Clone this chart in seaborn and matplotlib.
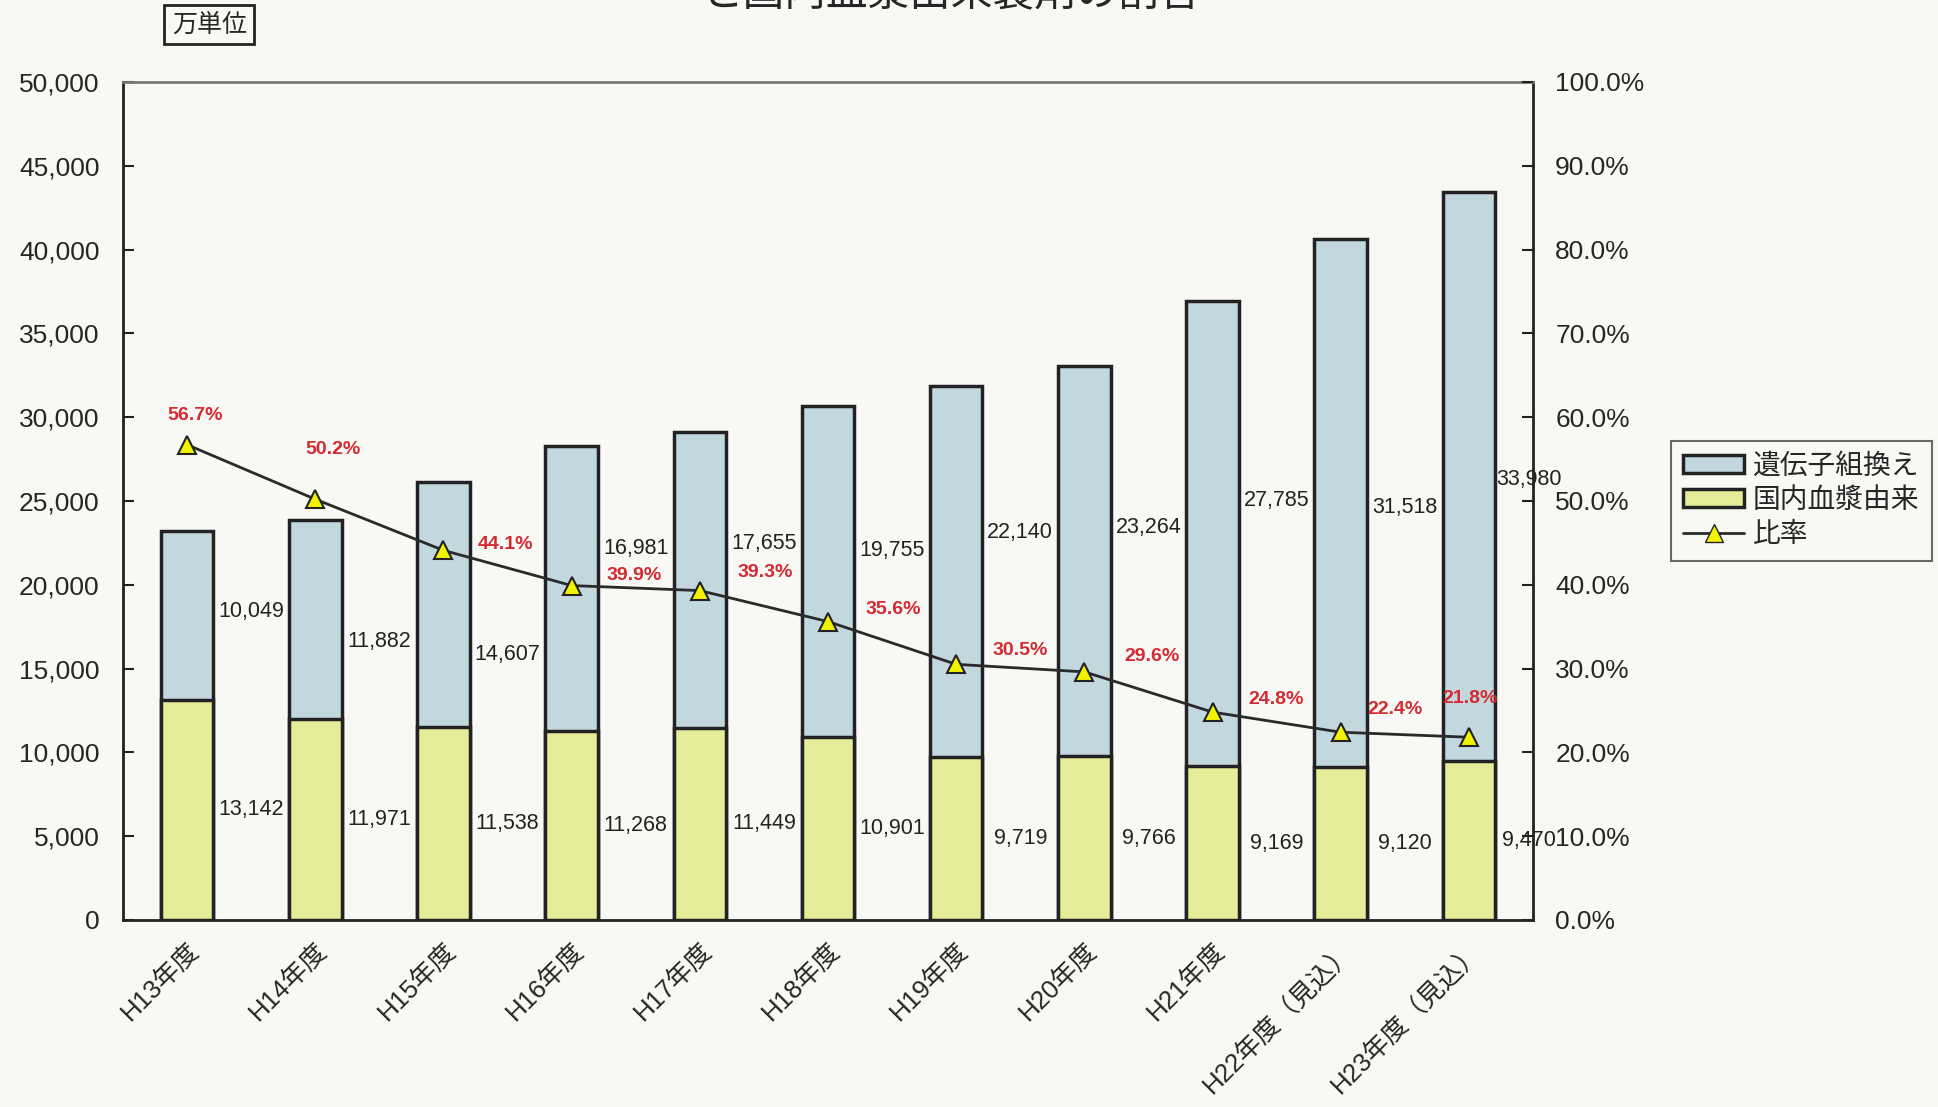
import numpy as np
import pandas as pd
import matplotlib
matplotlib.use("Agg")
import matplotlib.pyplot as plt
import seaborn as sns
from matplotlib.patches import Patch
from matplotlib.lines import Line2D

# data (万単位)
years = ['H13年度', 'H14年度', 'H15年度', 'H16年度', 'H17年度', 'H18年度',
         'H19年度', 'H20年度', 'H21年度', 'H22年度（見込）', 'H23年度（見込）']
plasma = [13142, 11971, 11538, 11268, 11449, 10901, 9719, 9766, 9169, 9120, 9470]
recomb = [10049, 11882, 14607, 16981, 17655, 19755, 22140, 23264, 27785, 31518, 33980]
ratio = [56.7, 50.2, 44.1, 39.9, 39.3, 35.6, 30.5, 29.6, 24.8, 22.4, 21.8]

# label nudges (points)
recomb_dy = [3, -16, -36, 29, 26, 15, 28, 24, 24, -3, -2]
ratio_off = [(6, 21), (13, 36), (45, 4), (45, 7), (47, 13), (47, 9),
             (46, 10), (49, 11), (46, 9), (39, 16), (1, 28)]

sns.set_style("white")
plt.rcParams['font.family'] = ['Liberation Sans', 'Noto Sans CJK JP', 'DejaVu Sans']

bg = '#f8f8f5'
blue = '#c3d7df'
yellow = '#e7ec98'
edge = '#222222'

df = pd.DataFrame({'year': years, 'plasma': plasma, 'recomb': recomb, 'ratio': ratio})
df['total'] = df['plasma'] + df['recomb']

fig = plt.figure(figsize=(19.38, 11.07), dpi=100, facecolor=bg)
ax = fig.add_axes([0.0635, 0.169, 0.7275, 0.757])
ax.set_facecolor(bg)

sns.barplot(data=df, x='year', y='total', color=blue, width=0.41,
            edgecolor=edge, linewidth=2.5, saturation=1, ax=ax)
sns.barplot(data=df, x='year', y='plasma', color=yellow, width=0.41,
            edgecolor=edge, linewidth=2.5, saturation=1, ax=ax)

ax.set_ylim(0, 50000)
ax.set_xlim(-0.5, len(years) - 0.5)
ax.set_yticks(np.arange(0, 50001, 5000))
ax.yaxis.set_major_formatter(matplotlib.ticker.FuncFormatter(lambda v, p: f'{int(v):,}'))
ax.set_xlabel('')
ax.set_ylabel('')
ax.set_xticks(np.arange(len(years)))
ax.set_xticklabels(years, rotation=45, ha='right', rotation_mode='anchor', fontsize=18.5)
ax.set_xticks(np.arange(len(years) + 1) - 0.5, minor=True)
ax.tick_params(axis='x', which='major', length=0, pad=13)
ax.tick_params(axis='x', which='minor', direction='in', length=6, color=edge)
ax.tick_params(axis='y', direction='in', length=8, width=1.5, color=edge, labelsize=19, pad=17)

for s in ['left', 'bottom']:
    ax.spines[s].set_color(edge)
    ax.spines[s].set_linewidth(2)
ax.spines['top'].set_color('#777777')
ax.spines['top'].set_linewidth(2)
ax.spines['right'].set_color(edge)
ax.spines['right'].set_linewidth(2)

# value labels
for i in range(len(years)):
    dx = -3 if i == len(years) - 1 else 0
    ax.annotate(f'{plasma[i]:,}', (i + 0.5, plasma[i] / 2), xytext=(dx, 0),
                textcoords='offset points', ha='center', va='center',
                fontsize=15.5, color='#222222')
    ax.annotate(f'{recomb[i]:,}', (i + 0.5, plasma[i] + recomb[i] / 2),
                xytext=(dx, recomb_dy[i]), textcoords='offset points',
                ha='center', va='center', fontsize=15.5, color='#222222')

# ratio line
ax2 = ax.twinx()
sns.lineplot(x=np.arange(len(years)), y=ratio, ax=ax2, color='#2a2a2a', linewidth=2,
             marker='^', markersize=13, markerfacecolor='#f2f200',
             markeredgecolor='#222222', markeredgewidth=1.5)
ax2.set_ylim(0, 100)
ax2.set_yticks(np.arange(0, 101, 10))
ax2.yaxis.set_major_formatter(matplotlib.ticker.FuncFormatter(lambda v, p: f'{v:.1f}%'))
ax2.tick_params(axis='y', direction='in', length=8, width=1.5, color=edge, labelsize=19, pad=16)
for s in ax2.spines.values():
    s.set_visible(False)

for i in range(len(years)):
    ax2.annotate(f'{ratio[i]:.1f}%', (i, ratio[i]), xytext=ratio_off[i],
                 textcoords='offset points', ha='center', va='center',
                 fontsize=14, fontweight='bold', color='#d42a32')

handles = [Patch(facecolor=blue, edgecolor=edge, linewidth=2.5),
           Patch(facecolor=yellow, edgecolor=edge, linewidth=2.5),
           Line2D([], [], color='#2a2a2a', linewidth=2, marker='^', markersize=13,
                  markerfacecolor='#f2f200', markeredgecolor='#222222')]
leg = fig.legend(handles, ['遺伝子組換え', '国内血漿由来', '比率'],
                 loc='upper left', bbox_to_anchor=(0.862, 0.6016), fontsize=20,
                 frameon=True, fancybox=False, edgecolor='#444444', facecolor=bg,
                 handlelength=2.2, handleheight=0.6, handletextpad=0.3,
                 borderpad=0.45, labelspacing=0.3, borderaxespad=0)
leg.get_frame().set_linewidth(1.5)

# unit box and clipped title
fig.text(0.108, 0.978, '万単位', ha='center', va='center', fontsize=18,
         bbox=dict(boxstyle='square,pad=0.3', facecolor=bg, edgecolor=edge, linewidth=2))
fig.text(0.491, 0.9955, 'と国内血漿由来製剤の割合', ha='center', va='baseline', fontsize=30)

fig.savefig('out.png', dpi=100, facecolor=bg)
